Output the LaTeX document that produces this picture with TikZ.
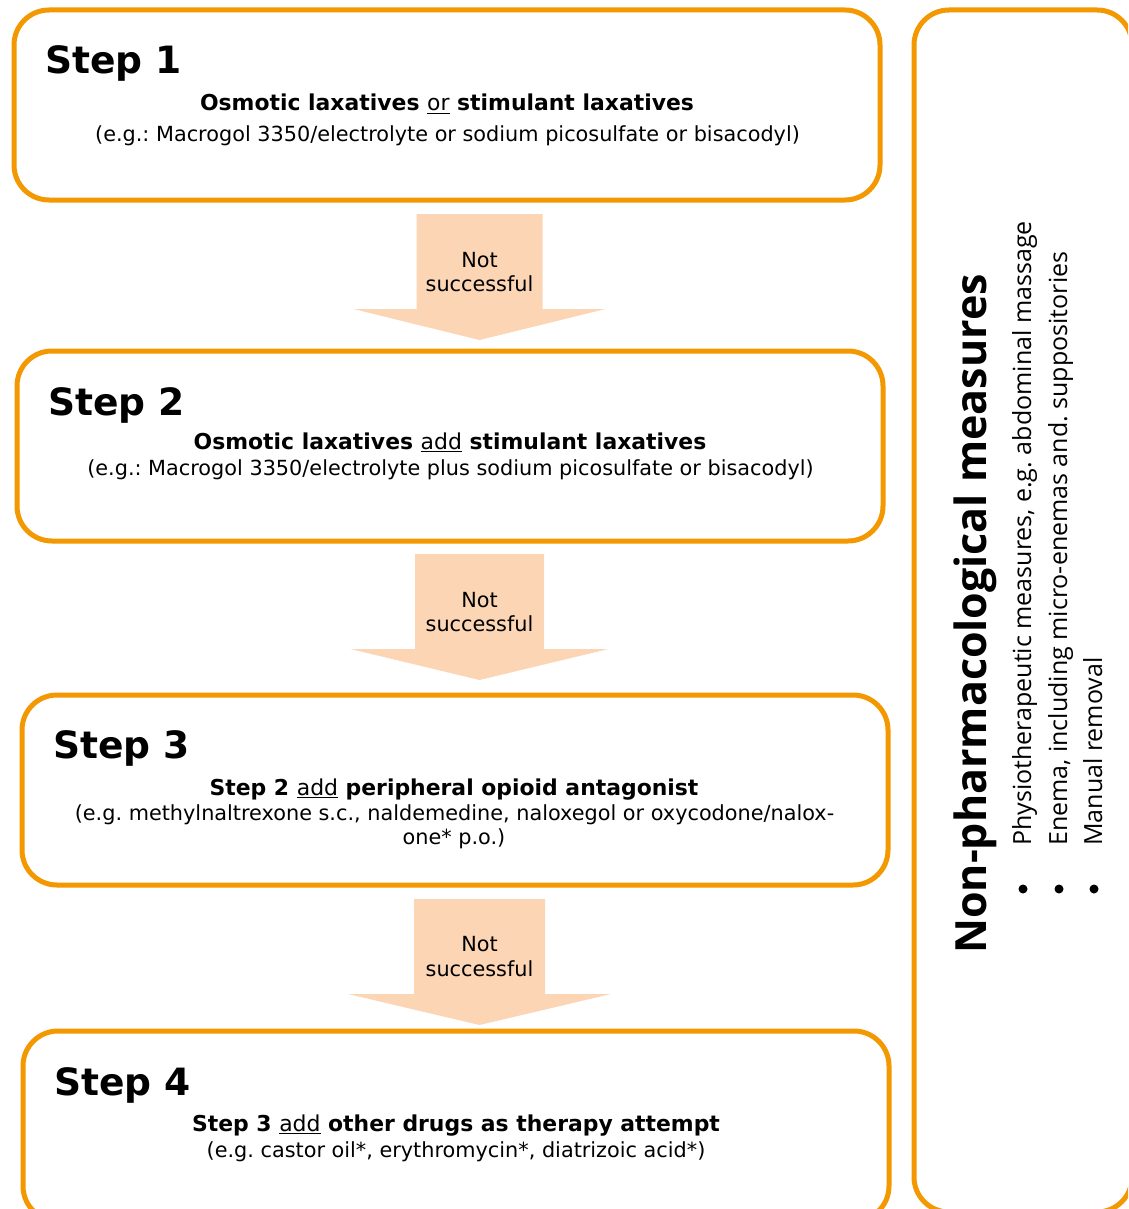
\documentclass[tikz,border=0pt]{standalone}
\usepackage{fontspec}
\setmainfont{DejaVu Sans}
\newfontfamily\sidefont{Open Sans}

\definecolor{boxorange}{RGB}{243,152,0}
\definecolor{arrowpeach}{RGB}{251,213,180}

\tikzset{
  stepbox/.style={draw=boxorange, line width=5pt, rounded corners=35pt,
    minimum width=866pt, minimum height=190pt, inner sep=0pt},
  sidebox/.style={draw=boxorange, line width=5pt, rounded corners=35pt,
    minimum width=218pt, minimum height=1202pt, inner sep=0pt},
  steptitle/.style={anchor=base west, inner sep=0pt,
    font=\fontsize{37.6}{38}\selectfont\bfseries},
  stepmain/.style={anchor=base, inner sep=0pt,
    font=\frenchspacing\fontsize{21.9}{24}\selectfont\bfseries},
  stepnote/.style={anchor=base, inner sep=0pt,
    font=\frenchspacing\fontsize{20.8}{24}\selectfont},
  flowlabel/.style={anchor=base, inner sep=0pt,
    font=\fontsize{20.8}{24}\selectfont},
  flowarrow/.style={fill=arrowpeach, draw=none},
  sidetitle/.style={rotate=90, anchor=base west, inner sep=0pt,
    font=\sidefont\fontsize{43}{43}\selectfont\bfseries},
  sideitem/.style={rotate=90, anchor=base west, inner sep=0pt,
    font=\frenchspacing\sidefont\fontsize{25}{25}\selectfont},
  sidedot/.style={circle, fill=black, minimum size=9pt, inner sep=0pt},
}

% block arrow: centre x, top y, shaft bottom y, tip y, shaft half width, head half width
\newcommand\flowshape[6]{%
  \fill[flowarrow] (#1-#5,#2) -- (#1+#5,#2) -- (#1+#5,#3) -- (#1+#6,#3)
    -- (#1,#4) -- (#1-#6,#3) -- (#1-#5,#3) -- cycle;}

\begin{document}
\begin{tikzpicture}[x=1pt,y=-1pt]
\useasboundingbox (0,0) rectangle (1128,1209);
\begin{scope}
\clip (0,0) rectangle (1128,1209);

% step boxes
\node[stepbox] (b1) at (447,105) {};
\node[stepbox] (b2) at (450,446) {};
\node[stepbox] (b3) at (455,790) {};
\node[stepbox] (b4) at (456,1126) {};

% side box
\node[sidebox] (side) at (1023,611) {};

% arrows between the steps
\flowshape{479.5}{214}{309}{340}{63}{126}
\flowshape{479.5}{554}{649}{680}{64.5}{129}
\flowshape{479.5}{899}{994}{1025}{65.5}{131.5}
\end{scope}

% step 1
\node[steptitle] (t1) at (45,74) {Step 1};
\node[stepmain] (m1) at (447,111) {Osmotic laxatives {\mdseries\underline{or}} stimulant laxatives};
\node[stepnote] (n1) at (447.5,141.5) {(e.g.: Macrogol 3350/electrolyte or sodium picosulfate or bisacodyl)};

% step 2
\node[steptitle] (t2) at (48,415) {Step 2};
\node[stepmain] (m2) at (450,449.5) {Osmotic laxatives {\mdseries\underline{add}} stimulant laxatives};
\node[stepnote] (n2) at (450.5,475) {(e.g.: Macrogol 3350/electrolyte plus sodium picosulfate or bisacodyl)};

% step 3
\node[steptitle] (t3) at (53,758.5) {Step 3};
\node[stepmain] (m3) at (454,795) {Step 2 {\mdseries\underline{add}} peripheral opioid antagonist};
\node[stepnote] (n3a) at (454.5,820.5) {(e.g. methylnaltrexone s.c., naldemedine, naloxegol or oxycodone/nalox-};
\node[stepnote] (n3b) at (454,844.5) {one* p.o.)};

% step 4
\node[steptitle] (t4) at (54,1095.5) {Step 4};
\node[stepmain] (m4) at (456,1131.5) {Step 3 {\mdseries\underline{add}} other drugs as therapy attempt};
\node[stepnote] (n4) at (456,1157.5) {(e.g. castor oil*, erythromycin*, diatrizoic acid*)};

% arrow labels
\node[flowlabel] (a1a) at (479.5,267) {Not};
\node[flowlabel] (a1b) at (479.5,291) {successful};
\node[flowlabel] (a2a) at (479.5,607) {Not};
\node[flowlabel] (a2b) at (479.5,631) {successful};
\node[flowlabel] (a3a) at (479.5,951) {Not};
\node[flowlabel] (a3b) at (479.5,976) {successful};

% non-pharmacological measures
\node[sidetitle] (st) at (986,954) {Non-pharmacological measures};
\node[sidedot] (d1) at (1023,889) {};
\node[sidedot] (d2) at (1059,889) {};
\node[sidedot] (d3) at (1094,889) {};
\node[sideitem] (i1) at (1031,846) {Physiotherapeutic measures, e.g. abdominal massage};
\node[sideitem] (i2) at (1067,846) {Enema, including micro-enemas and. suppositories};
\node[sideitem] (i3) at (1102,846) {Manual removal};
\end{tikzpicture}
\end{document}
